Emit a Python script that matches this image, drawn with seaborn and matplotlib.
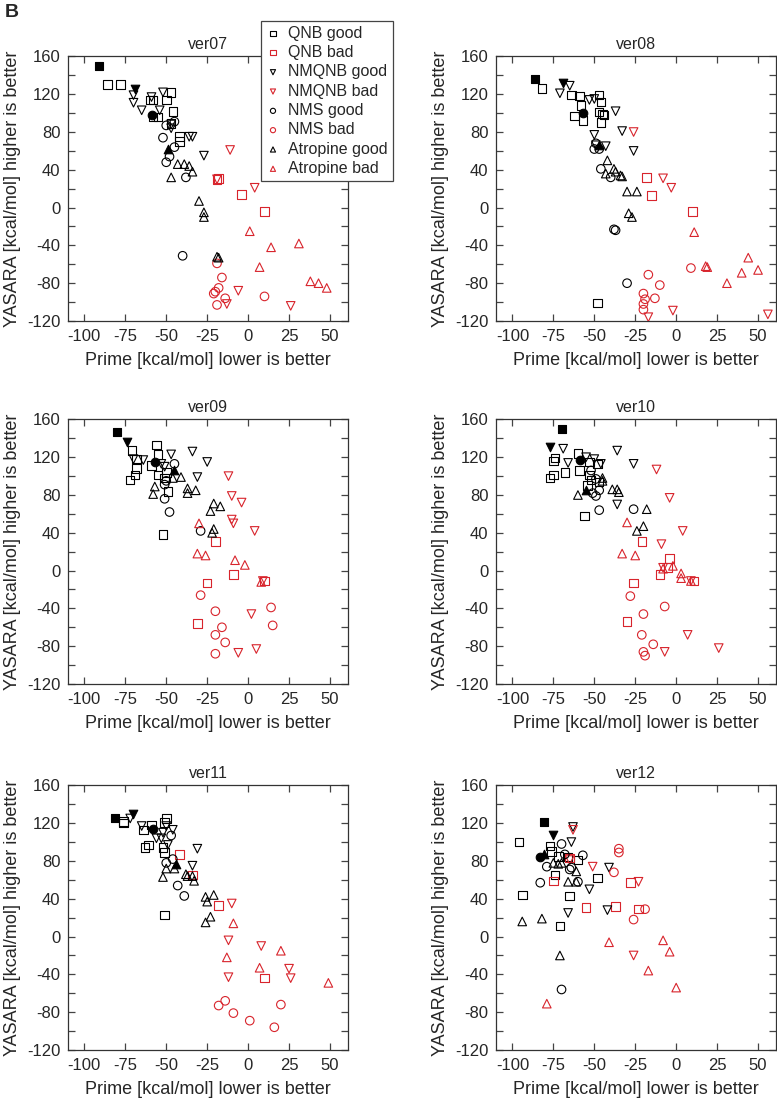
import pandas as pd
import matplotlib
matplotlib.use('Agg')
import matplotlib.pyplot as plt
import seaborn as sns
from matplotlib.ticker import MultipleLocator

# nombres de los paneles y grupos
panels = ['ver07', 'ver08', 'ver09', 'ver10', 'ver11', 'ver12']
groups = ['QNB good', 'QNB bad', 'NMQNB good', 'NMQNB bad',
          'NMS good', 'NMS bad', 'Atropine good', 'Atropine bad']

# (Prime, YASARA) por grupo
v07_qnb_good = [(-86, 130), (-78, 130), (-60, 114), (-58, 114), (-50, 114), (-47, 122), (-55, 96), (-58, 96),
                (-46, 102), (-42, 75), (-42, 70), (-47, 89)]
v07_qnb_bad = [(-19, 30), (-18, 31), (-4, 14), (10, -4)]
v07_nmqnb_good = [(-70, 119), (-70, 111), (-65, 103), (-59, 117), (-54, 103), (-52, 122), (-47, 84), (-47, 88),
                  (-36, 75), (-34, 75), (-27, 55)]
v07_nmqnb_bad = [(-11, 61), (-19, 30), (4, 21), (-6, -88), (-13, -102), (26, -104)]
v07_nms_good = [(-52, 74), (-50, 87), (-45, 91), (-48, 54), (-50, 48), (-45, 64), (-38, 32), (-40, -51)]
v07_nms_bad = [(-19, -59), (-16, -74), (-18, -85), (-20, -89), (-21, -91), (-14, -96), (-19, -103), (10, -94)]
v07_atr_good = [(-47, 32), (-43, 46), (-39, 46), (-36, 44), (-34, 38), (-30, 7), (-27, -5), (-27, -10),
                (-19, -52), (-18, -53)]
v07_atr_bad = [(1, -25), (14, -42), (31, -38), (7, -63), (38, -78), (43, -80), (48, -85)]

v08_qnb_good = [(-82, 126), (-64, 119), (-59, 118), (-58, 108), (-62, 97), (-57, 92), (-47, 119), (-46, 112),
                (-47, 101), (-45, 99), (-44, 98), (-46, 90), (-48, -101)]
v08_qnb_bad = [(-18, 32), (-15, 13), (10, -4)]
v08_nmqnb_good = [(-71, 121), (-65, 129), (-53, 114), (-50, 115), (-37, 102), (-50, 77), (-33, 81), (-26, 60),
                  (-43, 65), (-49, 66)]
v08_nmqnb_bad = [(-26, 80), (-8, 31), (-3, 21), (-17, -116), (-2, -109), (56, -113)]
v08_nms_good = [(-50, 62), (-47, 62), (-49, 68), (-46, 41), (-40, 32), (-38, -23), (-37, -24), (-30, -80)]
v08_nms_bad = [(-17, -71), (-10, -82), (-13, -96), (-20, -91), (-19, -97), (-20, -102), (-20, -108), (9, -64)]
v08_atr_good = [(-42, 50), (-43, 36), (-38, 41), (-37, 38), (-34, 34), (-33, 33), (-30, 17), (-24, 17),
                (-29, -6), (-27, -10)]
v08_atr_bad = [(11, -26), (18, -62), (19, -63), (31, -80), (40, -69), (44, -53), (50, -66)]

v09_qnb_good = [(-71, 127), (-68, 118), (-68, 108), (-69, 101), (-72, 96), (-56, 133), (-55, 123), (-55, 101),
                (-59, 111), (-52, 38), (-49, 84), (-51, 98), (-50, 104)]
v09_qnb_bad = [(-20, 31), (-25, -13), (-31, -56), (-9, -4), (10, -11)]
v09_nmqnb_good = [(-70, 118), (-64, 117), (-53, 113), (-47, 123), (-34, 126), (-25, 115), (-31, 99), (-51, 110)]
v09_nmqnb_bad = [(-12, 100), (-10, 79), (-4, 72), (-10, 54), (-9, 50), (4, 42), (2, -46), (-6, -87),
                 (5, -83), (9, -11)]
v09_nms_good = [(-45, 113), (-50, 95), (-51, 91), (-51, 76), (-48, 62), (-29, 42)]
v09_nms_bad = [(-29, -26), (-20, -43), (-16, -60), (-20, -68), (-14, -76), (-20, -88), (14, -39), (15, -58)]
v09_atr_good = [(-58, 81), (-57, 89), (-41, 99), (-46, 98), (-37, 87), (-37, 82), (-32, 85), (-23, 63),
                (-21, 71), (-17, 68), (-21, 44), (-22, 40)]
v09_atr_bad = [(-30, 50), (-31, 18), (-26, 16), (-8, 11), (-2, 6), (8, -12)]

v10_qnb_good = [(-77, 98), (-75, 101), (-74, 119), (-75, 116), (-68, 104), (-60, 124), (-59, 106), (-53, 115),
                (-53, 101), (-52, 96), (-54, 90), (-56, 58), (-48, 113), (-47, 94)]
v10_qnb_bad = [(-21, 31), (-4, 13), (-5, 3), (-10, -4), (-26, -13), (-30, -54), (11, -11)]
v10_nmqnb_good = [(-69, 129), (-66, 114), (-55, 120), (-50, 118), (-46, 113), (-36, 127), (-26, 113), (-36, 70)]
v10_nmqnb_bad = [(-12, 107), (-4, 77), (4, 42), (-9, 28), (-8, 3), (7, -68), (26, -82), (-7, -86), (9, -11)]
v10_nms_good = [(-52, 106), (-49, 97), (-47, 85), (-49, 79), (-51, 82), (-47, 64), (-26, 65)]
v10_nms_bad = [(-28, -27), (-7, -38), (-20, -46), (-21, -68), (-14, -78), (-20, -86), (-19, -90)]
v10_atr_good = [(-60, 80), (-45, 98), (-45, 95), (-39, 86), (-36, 86), (-35, 83), (-18, 65), (-24, 42), (-20, 47)]
v10_atr_bad = [(-30, 51), (-33, 18), (-25, 16), (-8, 2), (-2, 5), (3, -3), (3, -8), (9, -11)]

v11_qnb_good = [(-76, 120), (-76, 122), (-64, 113), (-63, 94), (-61, 97), (-59, 118), (-51, 121), (-50, 125),
                (-52, 94), (-51, 89), (-51, 23)]
v11_qnb_bad = [(-42, 87), (-34, 65), (-18, 33), (10, -44)]
v11_nmqnb_good = [(-72, 125), (-65, 117), (-56, 104), (-53, 104), (-52, 110), (-50, 117), (-46, 113), (-49, 97),
                  (-31, 93), (-34, 75)]
v11_nmqnb_bad = [(-10, 35), (-12, -4), (-12, -43), (8, -10), (25, -34), (26, -44)]
v11_nms_good = [(-47, 107), (-50, 78), (-46, 82), (-43, 54), (-39, 43)]
v11_nms_bad = [(-18, -73), (-14, -68), (-9, -81), (1, -89), (16, -96), (20, -72)]
v11_atr_good = [(-52, 63), (-50, 72), (-45, 72), (-38, 66), (-37, 64), (-34, 64), (-33, 59), (-26, 42),
                (-21, 44), (-25, 37), (-26, 15), (-23, 21)]
v11_atr_bad = [(-9, 14), (-13, -22), (7, -33), (20, -15), (49, -49)]

v12_qnb_good = [(-96, 100), (-94, 44), (-77, 96), (-76, 90), (-72, 85), (-74, 65), (-71, 11), (-65, 43),
                (-60, 81), (-48, 62), (-66, 84)]
v12_qnb_bad = [(-75, 59), (-65, 83), (-55, 31), (-37, 32), (-28, 57), (-23, 29)]
v12_nmqnb_good = [(-63, 116), (-64, 100), (-66, 25), (-53, 50), (-41, 73), (-42, 28)]
v12_nmqnb_bad = [(-63, 113), (-65, 81), (-51, 74), (-23, 58), (-26, -20)]
v12_nms_good = [(-79, 74), (-83, 57), (-70, 98), (-68, 87), (-65, 71), (-57, 86), (-60, 58), (-70, -56), (-64, 73)]
v12_nms_bad = [(-35, 93), (-35, 89), (-38, 68), (-26, 18), (-19, 29)]
v12_atr_good = [(-94, 16), (-82, 19), (-75, 78), (-72, 77), (-70, 78), (-66, 58), (-61, 69), (-61, 58), (-71, -20)]
v12_atr_bad = [(-79, -71), (-41, -6), (-8, -4), (-4, -16), (-17, -36), (0, -54)]

# puntos de referencia (rellenos), uno por panel en el orden de panels
ref_qnb = [(-91, 150), (-86, 136), (-80, 147), (-70, 150), (-81, 125), (-81, 121)]
ref_nmqnb = [(-69, 125), (-69, 132), (-74, 136), (-77, 131), (-70, 130), (-75, 108)]
ref_nms = [(-59, 98), (-57, 100), (-57, 115), (-59, 117), (-58, 114), (-83, 84)]
ref_atr = [(-49, 62), (-47, 66), (-45, 106), (-55, 85), (-44, 77), (-81, 87)]

series = {
    'ver07': [v07_qnb_good, v07_qnb_bad, v07_nmqnb_good, v07_nmqnb_bad, v07_nms_good, v07_nms_bad, v07_atr_good, v07_atr_bad],
    'ver08': [v08_qnb_good, v08_qnb_bad, v08_nmqnb_good, v08_nmqnb_bad, v08_nms_good, v08_nms_bad, v08_atr_good, v08_atr_bad],
    'ver09': [v09_qnb_good, v09_qnb_bad, v09_nmqnb_good, v09_nmqnb_bad, v09_nms_good, v09_nms_bad, v09_atr_good, v09_atr_bad],
    'ver10': [v10_qnb_good, v10_qnb_bad, v10_nmqnb_good, v10_nmqnb_bad, v10_nms_good, v10_nms_bad, v10_atr_good, v10_atr_bad],
    'ver11': [v11_qnb_good, v11_qnb_bad, v11_nmqnb_good, v11_nmqnb_bad, v11_nms_good, v11_nms_bad, v11_atr_good, v11_atr_bad],
    'ver12': [v12_qnb_good, v12_qnb_bad, v12_nmqnb_good, v12_nmqnb_bad, v12_nms_good, v12_nms_bad, v12_atr_good, v12_atr_bad],
}

rows = []
for p in panels:
    for g, pts in zip(groups, series[p]):
        for x, y in pts:
            rows.append({'panel': p, 'group': g, 'prime': x, 'yasara': y})
df = pd.DataFrame(rows)

refs = []
for i, p in enumerate(panels):
    for lig, lst in zip(['QNB', 'NMQNB', 'NMS', 'Atropine'], [ref_qnb, ref_nmqnb, ref_nms, ref_atr]):
        refs.append({'panel': p, 'ligand': lig, 'prime': lst[i][0], 'yasara': lst[i][1]})
df_ref = pd.DataFrame(refs)

markers = {'QNB': 's', 'NMQNB': 'v', 'NMS': 'o', 'Atropine': '^'}
red = '#d8242c'

sns.set_style('ticks')
plt.rcParams['font.family'] = ['Liberation Sans', 'DejaVu Sans']
plt.rcParams['axes.unicode_minus'] = False

fig = plt.figure(figsize=(7.77, 11.0), dpi=100)
lefts = [0.0875, 0.6384]
bottoms = [0.7082, 0.3782, 0.0455]
axes = []
for r in range(3):
    for c in range(2):
        axes.append(fig.add_axes([lefts[c], bottoms[r], 0.3604, 0.2405]))

for ax, p in zip(axes, panels):
    sub = df[df.panel == p]
    for g in groups:
        lig, qual = g.rsplit(' ', 1)
        col = 'black' if qual == 'good' else red
        d = sub[sub.group == g]
        sns.scatterplot(data=d, x='prime', y='yasara', marker=markers[lig], s=38,
                        facecolor='none', edgecolor=col, color=col, linewidth=0.8,
                        legend=False, label=g, ax=ax, zorder=3)
    rs = df_ref[df_ref.panel == p]
    for lig in ['QNB', 'NMQNB', 'NMS', 'Atropine']:
        d = rs[rs.ligand == lig]
        sns.scatterplot(data=d, x='prime', y='yasara', marker=markers[lig], s=38,
                        color='black', edgecolor='black', linewidth=0.8,
                        legend=False, ax=ax, zorder=4)

    ax.set_xlim(-110, 61)
    ax.set_ylim(-120, 160)
    ax.xaxis.set_major_locator(MultipleLocator(25))
    ax.yaxis.set_major_locator(MultipleLocator(40))
    ax.yaxis.set_minor_locator(MultipleLocator(20))
    ax.tick_params(which='both', direction='in', top=True, right=True, length=5,
                   width=0.9, color='#444444', labelsize=12, pad=5.5)
    for s in ax.spines.values():
        s.set_linewidth(0.9)
        s.set_color('#333333')
    ax.set_title(p, fontsize=11.5, pad=5)
    ax.set_xlabel('Prime [kcal/mol] lower is better', fontsize=13, labelpad=6)
    ax.set_ylabel('YASARA [kcal/mol] higher is better', fontsize=13, labelpad=4)

handles, labels = axes[0].get_legend_handles_labels()
leg = axes[0].legend(handles, labels, loc='upper left', bbox_to_anchor=(261 / 777, 1 - 21 / 1100),
                     bbox_transform=fig.transFigure, fancybox=False, framealpha=1, edgecolor='#444444',
                     markerscale=0.6, handlelength=0.9, handletextpad=0.5, labelspacing=0.27,
                     borderpad=0.3, borderaxespad=0, fontsize=11.5)
leg.get_frame().set_linewidth(0.9)

fig.text(0.006, 0.996, 'B', fontsize=14, fontweight='bold', va='top', ha='left')

fig.savefig('out.png', dpi=100)
